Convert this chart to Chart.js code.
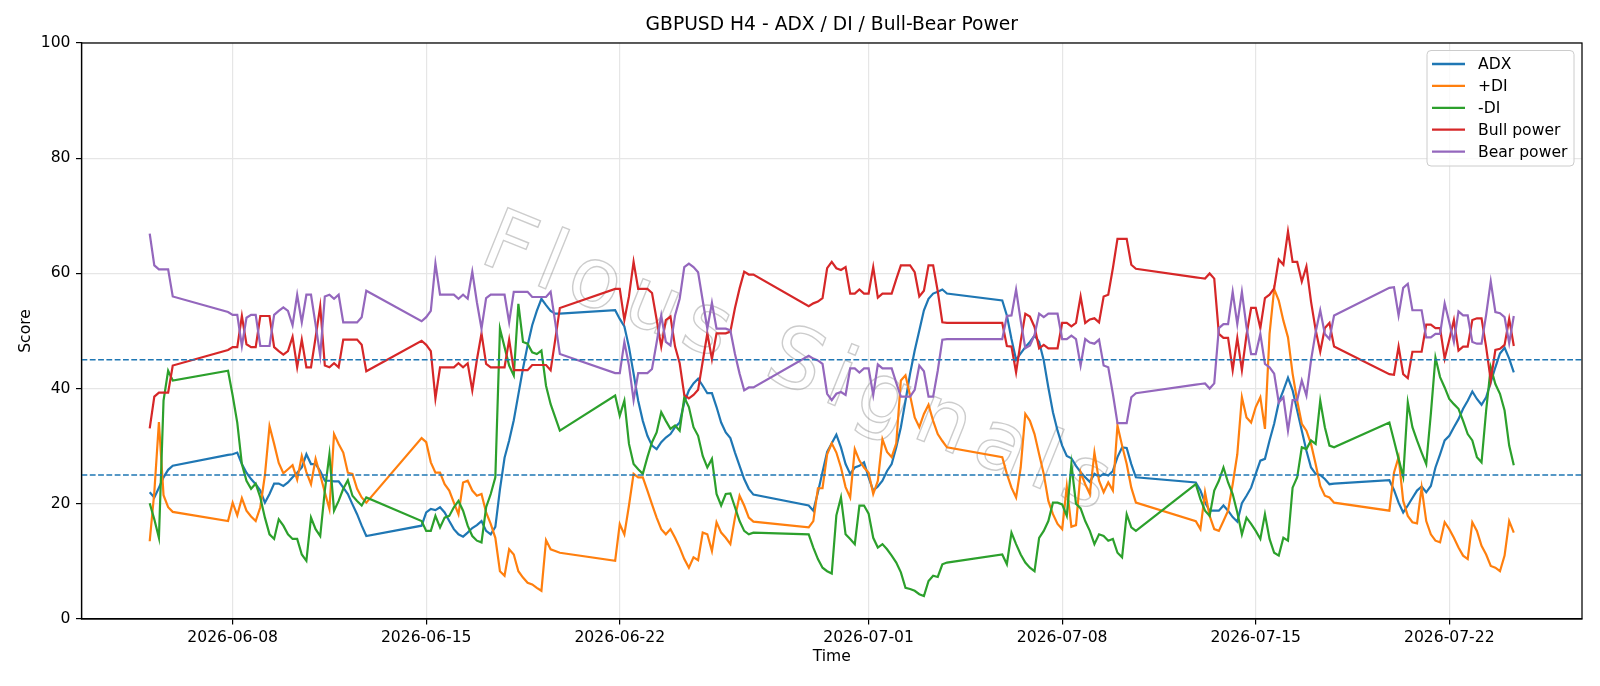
<!DOCTYPE html>
<html lang="en">
<head>
  <meta charset="UTF-8" />
  <title>GBPUSD H4 - ADX / DI / Bull-Bear Power</title>
  <script src="https://cdn.jsdelivr.net/npm/chart.js"></script>
  <style>
    body { margin: 0; background: #fff; }
    #wrap { width: 1600px; height: 686px; }
  </style>
</head>
<body>
  <div id="wrap"><canvas id="chart" width="1600" height="686"></canvas></div>

  <script>
    // H4 bars, one block per trading stretch: [first bar (UTC), number of bars]
    const sessions = [
      ['2026-06-05T00:00:00Z', 6],
      ['2026-06-07T20:00:00Z', 31],
      ['2026-06-14T20:00:00Z', 31],
      ['2026-06-21T20:00:00Z', 31],
      ['2026-06-28T20:00:00Z', 31],
      ['2026-07-05T20:00:00Z', 30],
      ['2026-07-12T20:00:00Z', 31],
      ['2026-07-19T20:00:00Z', 28]
    ];

    const tickDates = ['2026-06-08', '2026-06-15', '2026-06-22', '2026-07-01', '2026-07-08', '2026-07-15', '2026-07-22'];
    const yTicks = [0, 20, 40, 60, 80, 100];
    const levels = [45, 25];

    const adx = [
      22.0, 21.1, 22.8, 24.6, 25.9, 26.6,
      28.5, 28.6, 28.9, 26.9, 25.4, 24.3, 23.4, 22.3, 20.2, 21.7, 23.5, 23.5, 23.1, 23.7, 24.6, 25.4, 26.3, 28.6, 26.9, 26.9, 25.7, 24.0, 24.0, 23.9, 23.9, 22.8, 21.7, 19.9, 18.2, 16.2, 14.4,
      16.2, 18.5, 19.1, 18.9, 19.4, 18.5, 17.0, 15.6, 14.7, 14.3, 15.0, 15.8, 16.3, 17.0, 15.3, 14.7, 16.0, 22.5, 28.0, 31.0, 34.5, 39.0, 43.5, 47.5, 51.0, 53.5, 55.6, 54.5, 53.5, 53.0, 53.0,
      53.6, 52.1, 50.8, 47.2, 42.6, 37.9, 34.4, 31.8, 30.1, 29.5, 30.7, 31.5, 32.1, 33.3, 34.1, 37.6, 39.7, 40.9, 41.7, 40.5, 39.2, 39.2, 36.8, 34.1, 32.4, 31.4, 28.9, 26.6, 24.3, 22.6, 21.6,
      19.7, 18.8, 22.0, 25.5, 29.0, 30.5, 32.0, 29.8, 26.9, 25.2, 26.3, 26.6, 27.2, 24.6, 22.3, 23.0, 24.0, 25.7, 26.9, 29.8, 33.3, 37.9, 42.6, 46.6, 50.1, 53.6, 55.6, 56.5, 56.8, 57.2, 56.5,
      55.3, 52.7, 48.6, 45.0, 46.1, 47.2, 48.1, 49.2, 48.1, 44.9, 40.2, 35.9, 32.7, 30.1, 28.3, 27.9, 26.6, 25.5, 24.6, 23.8, 25.2, 24.7, 25.2, 24.9, 25.7, 28.1, 29.8, 29.7, 26.9, 24.6,
      23.7, 22.3, 20.2, 18.8, 18.8, 18.8, 19.7, 18.8, 17.7, 16.9, 20.1, 21.4, 22.8, 25.2, 27.5, 27.8, 31.0, 33.9, 37.6, 39.7, 41.9, 39.7, 36.2, 32.7, 29.2, 26.3, 25.2, 25.0, 24.3, 23.4, 23.5,
      24.1, 22.4, 20.2, 18.5, 19.7, 21.0, 22.3, 23.0, 22.0, 23.1, 26.3, 28.6, 31.0, 31.8, 33.3, 34.7, 36.5, 37.9, 39.5, 38.2, 37.2, 38.5, 41.1, 43.7, 46.1, 47.1, 45.2, 42.8
    ];

    const plusDi = [
      13.5, 22.0, 34.2, 21.5, 19.4, 18.6,
      17.0, 20.2, 18.0, 21.0, 18.8, 17.8, 17.0, 19.4, 25.0, 33.5, 30.4, 27.1, 25.3, 26.0, 26.7, 24.2, 28.3, 25.5, 23.4, 27.8, 25.0, 22.0, 19.1, 32.1, 30.4, 28.9, 25.4, 25.2, 22.6, 21.1, 20.2,
      31.4, 30.7, 27.2, 25.4, 25.4, 23.4, 22.3, 20.2, 18.2, 23.7, 24.0, 22.3, 21.4, 21.7, 18.5, 16.5, 14.1, 8.3, 7.5, 12.1, 11.2, 8.3, 7.2, 6.3, 6.0, 5.4, 4.9, 13.7, 12.1, 11.8, 11.5,
      10.1, 16.5, 14.7, 19.7, 25.2, 24.6, 24.6, 22.3, 19.9, 17.6, 15.6, 14.7, 15.6, 14.1, 12.4, 10.4, 8.9, 10.7, 10.2, 15.0, 14.7, 11.8, 16.8, 15.0, 14.1, 13.0, 17.6, 21.4, 19.7, 17.6, 16.9,
      15.9, 17.0, 22.7, 22.7, 28.6, 30.5, 28.9, 26.3, 22.9, 21.1, 29.5, 27.5, 26.3, 25.4, 21.7, 24.0, 31.2, 29.0, 28.1, 30.5, 41.4, 42.3, 38.8, 35.0, 33.3, 35.6, 37.2, 34.4, 32.1, 30.9, 29.8,
      28.1, 25.2, 22.8, 21.1, 26.3, 35.6, 34.4, 32.1, 28.6, 25.2, 20.5, 18.2, 16.5, 15.6, 23.0, 16.0, 16.3, 25.5, 23.4, 21.7, 28.9, 24.0, 22.0, 23.7, 22.3, 33.6, 30.1, 26.9, 22.8, 20.2,
      17.0, 15.6, 22.0, 17.9, 15.6, 15.3, 17.0, 18.8, 23.4, 28.6, 38.5, 35.0, 34.1, 36.8, 38.5, 33.0, 49.5, 57.3, 55.3, 51.8, 48.9, 42.6, 37.9, 33.9, 32.7, 30.4, 26.9, 23.1, 21.4, 21.1, 20.2,
      18.8, 25.4, 28.1, 20.5, 17.9, 16.8, 16.6, 22.8, 17.0, 14.7, 13.6, 13.3, 16.8, 15.6, 14.1, 12.4, 11.0, 10.4, 16.8, 15.3, 12.7, 11.2, 9.2, 8.9, 8.3, 11.0, 17.0, 15.0
    ];

    const minusDi = [
      20.1, 17.3, 14.1, 37.9, 43.1, 41.4,
      43.1, 38.8, 34.1, 26.9, 24.0, 22.6, 23.5, 21.1, 17.6, 14.7, 13.9, 17.3, 16.2, 14.7, 13.9, 13.9, 11.2, 10.1, 17.6, 15.6, 14.4, 22.3, 28.6, 18.8, 20.5, 22.6, 24.1, 21.4, 20.5, 19.7, 21.1,
      17.0, 15.3, 15.3, 17.9, 15.9, 17.6, 17.9, 19.4, 20.5, 18.8, 16.2, 14.4, 13.6, 13.3, 19.4, 21.7, 24.6, 50.4, 47.2, 44.0, 42.3, 54.7, 48.1, 47.8, 46.3, 46.0, 46.6, 40.5, 37.3, 35.0, 32.7,
      38.8, 35.3, 37.9, 30.4, 26.9, 26.0, 25.2, 28.1, 30.7, 32.4, 35.9, 34.4, 33.0, 33.6, 32.7, 38.5, 36.8, 33.3, 31.8, 28.3, 26.3, 27.8, 21.7, 19.7, 21.7, 21.8, 19.4, 17.0, 15.3, 14.7, 15.0,
      14.7, 12.4, 10.4, 8.9, 8.3, 7.9, 18.0, 21.1, 14.7, 13.9, 13.0, 19.7, 19.7, 18.3, 14.1, 12.4, 13.0, 12.1, 11.0, 9.8, 8.1, 5.4, 5.2, 4.9, 4.3, 4.0, 6.6, 7.5, 7.3, 9.5, 9.8,
      11.2, 9.5, 15.0, 13.0, 11.2, 9.8, 8.9, 8.3, 14.1, 15.3, 17.0, 20.2, 20.2, 19.9, 17.9, 26.9, 20.0, 19.2, 17.0, 15.3, 13.0, 14.7, 14.4, 13.6, 13.9, 11.5, 10.7, 18.2, 15.9, 15.3,
      23.4, 20.8, 18.8, 17.9, 22.3, 24.0, 26.3, 23.7, 21.7, 18.5, 14.7, 17.6, 16.5, 15.3, 13.9, 18.2, 13.9, 11.5, 11.0, 14.1, 13.6, 22.8, 24.6, 29.8, 29.5, 31.0, 30.4, 37.9, 33.3, 30.1, 29.8,
      34.1, 31.0, 27.8, 24.7, 37.6, 33.3, 31.0, 28.9, 26.9, 35.6, 45.4, 42.0, 40.2, 38.2, 37.3, 36.5, 34.4, 32.1, 31.0, 28.1, 27.2, 36.2, 43.7, 40.8, 39.1, 36.2, 30.1, 26.7
    ];

    const bullPower = [
      33.1, 38.6, 39.3, 39.3, 39.3, 44.0,
      46.7, 47.2, 47.2, 52.6, 47.7, 47.2, 47.2, 52.6, 52.6, 52.6, 47.2, 46.5, 45.9, 46.5, 49.0, 43.7, 48.5, 43.7, 43.7, 48.9, 54.3, 44.0, 43.7, 44.4, 43.7, 48.5, 48.5, 48.5, 48.5, 47.6, 43.0,
      48.3, 47.6, 46.5, 38.3, 43.7, 43.7, 43.7, 43.7, 44.4, 43.7, 44.4, 39.7, 45.0, 49.6, 44.3, 43.7, 43.7, 43.7, 43.7, 48.5, 43.2, 43.2, 43.2, 43.2, 44.1, 44.1, 44.1, 44.1, 43.2, 48.5, 54.0,
      57.3, 57.3, 51.9, 56.0, 62.0, 57.3, 57.3, 57.3, 56.6, 52.0, 47.3, 51.9, 52.5, 47.3, 44.4, 38.9, 38.3, 38.9, 39.8, 44.7, 49.6, 45.1, 49.6, 49.6, 49.6, 49.9, 54.0, 57.4, 60.3, 59.8, 59.8,
      54.3, 54.8, 55.1, 55.7, 60.9, 62.0, 60.9, 60.6, 61.1, 56.5, 56.5, 57.2, 56.5, 56.5, 61.1, 55.8, 56.5, 56.5, 56.5, 59.0, 61.4, 61.4, 61.4, 60.2, 56.0, 57.0, 61.4, 61.4, 56.9, 51.5, 51.4,
      51.4, 47.4, 47.3, 42.8, 48.2, 53.0, 52.5, 50.7, 47.0, 47.6, 47.0, 47.0, 47.0, 51.4, 51.4, 50.8, 51.4, 56.0, 51.4, 52.0, 52.2, 51.5, 56.0, 56.3, 60.9, 66.0, 66.0, 66.0, 61.5, 60.8,
      59.3, 59.2, 59.1, 60.0, 59.1, 49.5, 48.8, 48.8, 43.2, 48.8, 43.2, 49.3, 54.0, 54.0, 50.5, 55.7, 56.3, 57.4, 62.4, 61.5, 67.3, 62.0, 62.0, 58.6, 61.2, 55.1, 50.2, 46.4, 50.5, 51.4, 47.3,
      42.5, 42.4, 47.3, 42.5, 41.8, 46.4, 46.4, 46.4, 51.1, 51.1, 50.5, 50.5, 45.2, 48.5, 51.9, 46.6, 47.3, 47.3, 51.9, 52.2, 52.2, 47.2, 41.4, 46.7, 46.9, 47.6, 52.1, 47.4
    ];

    const bearPower = [
      66.9, 61.4, 60.7, 60.7, 60.7, 56.0,
      53.3, 52.8, 52.8, 47.4, 52.3, 52.8, 52.8, 47.4, 47.4, 47.4, 52.8, 53.5, 54.1, 53.5, 51.0, 56.3, 51.5, 56.3, 56.3, 51.1, 45.7, 56.0, 56.3, 55.6, 56.3, 51.5, 51.5, 51.5, 51.5, 52.4, 57.0,
      51.7, 52.4, 53.5, 61.7, 56.3, 56.3, 56.3, 56.3, 55.6, 56.3, 55.6, 60.3, 55.0, 50.4, 55.7, 56.3, 56.3, 56.3, 56.3, 51.5, 56.8, 56.8, 56.8, 56.8, 55.9, 55.9, 55.9, 55.9, 56.8, 51.5, 46.0,
      42.7, 42.7, 48.1, 44.0, 38.0, 42.7, 42.7, 42.7, 43.4, 48.0, 52.7, 48.1, 47.5, 52.7, 55.6, 61.1, 61.7, 61.1, 60.2, 55.3, 50.4, 54.9, 50.4, 50.4, 50.4, 50.1, 46.0, 42.6, 39.7, 40.2, 40.2,
      45.7, 45.2, 44.9, 44.3, 39.1, 38.0, 39.1, 39.4, 38.9, 43.5, 43.5, 42.8, 43.5, 43.5, 38.9, 44.2, 43.5, 43.5, 43.5, 41.0, 38.6, 38.6, 38.6, 39.8, 44.0, 43.0, 38.6, 38.6, 43.1, 48.5, 48.6,
      48.6, 52.6, 52.7, 57.2, 51.8, 47.0, 47.5, 49.3, 53.0, 52.4, 53.0, 53.0, 53.0, 48.6, 48.6, 49.2, 48.6, 44.0, 48.6, 48.0, 47.8, 48.5, 44.0, 43.7, 39.1, 34.0, 34.0, 34.0, 38.5, 39.2,
      40.7, 40.8, 40.9, 40.0, 40.9, 50.5, 51.2, 51.2, 56.8, 51.2, 56.8, 50.7, 46.0, 46.0, 49.5, 44.3, 43.7, 42.6, 37.6, 38.5, 32.7, 38.0, 38.0, 41.4, 38.8, 44.9, 49.8, 53.6, 49.5, 48.6, 52.7,
      57.5, 57.6, 52.7, 57.5, 58.2, 53.6, 53.6, 53.6, 48.9, 48.9, 49.5, 49.5, 54.8, 51.5, 48.1, 53.4, 52.7, 52.7, 48.1, 47.8, 47.8, 52.8, 58.6, 53.3, 53.1, 52.4, 47.9, 52.6
    ];

    const H4 = 4 * 3600 * 1000;
    const times = [];
    sessions.forEach(([start, n]) => {
      const t0 = Date.parse(start);
      for (let i = 0; i < n; i++) times.push(t0 + i * H4);
    });

    // matplotlib style: 5% margin on each side of the data
    const span = times[times.length - 1] - times[0];
    const xMin = times[0] - 0.05 * span;
    const xMax = times[times.length - 1] + 0.05 * span;

    const FONT = "'DejaVu Sans', sans-serif";

    const series = [
      { label: 'ADX', values: adx, color: '#1f77b4' },
      { label: '+DI', values: plusDi, color: '#ff7f0e' },
      { label: '-DI', values: minusDi, color: '#2ca02c' },
      { label: 'Bull power', values: bullPower, color: '#d62728' },
      { label: 'Bear power', values: bearPower, color: '#9467bd' }
    ];

    const decorations = {
      id: 'decorations',
      beforeDraw(chart) {
        const ctx = chart.ctx;
        ctx.save();
        ctx.fillStyle = '#fff';
        ctx.fillRect(0, 0, chart.width, chart.height);
        ctx.restore();
      },
      beforeDatasetsDraw(chart) {
        // faint watermark behind the lines
        const ctx = chart.ctx;
        ctx.save();
        ctx.translate(800, 368);
        ctx.rotate(22 * Math.PI / 180);
        ctx.font = "84px " + FONT;
        ctx.letterSpacing = '10px';
        ctx.textAlign = 'center';
        ctx.textBaseline = 'middle';
        ctx.strokeStyle = 'rgba(120,120,120,0.38)';
        ctx.lineWidth = 1.4;
        ctx.strokeText('Flous Signals', 0, 0);
        ctx.restore();
      },
      afterDatasetsDraw(chart) {
        const ctx = chart.ctx;
        const a = chart.chartArea;
        const y = chart.scales.y;
        ctx.save();
        ctx.strokeStyle = '#1f77b4';
        ctx.lineWidth = 1.5;
        ctx.setLineDash([5.8, 2.5]);
        levels.forEach(v => {
          const py = y.getPixelForValue(v);
          ctx.beginPath();
          ctx.moveTo(a.left, py);
          ctx.lineTo(a.right, py);
          ctx.stroke();
        });
        ctx.restore();
      },
      afterDraw(chart) {
        const ctx = chart.ctx;
        const a = chart.chartArea;
        ctx.save();
        // frame
        ctx.strokeStyle = '#000';
        ctx.lineWidth = 1.25;
        ctx.strokeRect(a.left, a.top, a.right - a.left, a.bottom - a.top);

        // title + axis labels
        ctx.fillStyle = '#000';
        ctx.textAlign = 'center';
        ctx.textBaseline = 'middle';
        ctx.font = "18.7px " + FONT;
        ctx.fillText('GBPUSD H4 - ADX / DI / Bull-Bear Power', (a.left + a.right) / 2, 25.5);
        ctx.font = "15.6px " + FONT;
        ctx.fillText('Time', (a.left + a.right) / 2, 657);
        ctx.save();
        ctx.translate(25.5, (a.top + a.bottom) / 2);
        ctx.rotate(-Math.PI / 2);
        ctx.fillText('Score', 0, 0);
        ctx.restore();

        // legend box, upper right
        const bx = 1427, by = 50.5, bw = 147, bh = 115.5, r = 4;
        ctx.beginPath();
        ctx.moveTo(bx + r, by);
        ctx.arcTo(bx + bw, by, bx + bw, by + bh, r);
        ctx.arcTo(bx + bw, by + bh, bx, by + bh, r);
        ctx.arcTo(bx, by + bh, bx, by, r);
        ctx.arcTo(bx, by, bx + bw, by, r);
        ctx.closePath();
        ctx.fillStyle = 'rgba(255,255,255,0.8)';
        ctx.fill();
        ctx.strokeStyle = '#cccccc';
        ctx.lineWidth = 1;
        ctx.stroke();

        ctx.textAlign = 'left';
        ctx.font = "15.6px " + FONT;
        series.forEach((s, i) => {
          const ly = 64 + i * 21.9;
          ctx.strokeStyle = s.color;
          ctx.lineWidth = 2.3;
          ctx.beginPath();
          ctx.moveTo(1432, ly);
          ctx.lineTo(1465, ly);
          ctx.stroke();
          ctx.fillStyle = '#000';
          ctx.fillText(s.label, 1478, ly + 1);
        });
        ctx.restore();
      }
    };

    new Chart(document.getElementById('chart'), {
      type: 'line',
      data: {
        datasets: series.map((s, i) => ({
          label: s.label,
          data: times.map((t, k) => ({ x: t, y: s.values[k] })),
          borderColor: s.color,
          backgroundColor: s.color,
          borderWidth: 2.2,
          pointRadius: 0,
          tension: 0,
          fill: false,
          order: series.length - i
        }))
      },
      options: {
        responsive: false,
        animation: false,
        devicePixelRatio: 1,
        layout: { padding: { top: 43, right: 18, left: 0, bottom: 0 } },
        plugins: {
          legend: { display: false },
          tooltip: { enabled: false },
          title: { display: false }
        },
        scales: {
          x: {
            type: 'linear',
            min: xMin,
            max: xMax,
            afterFit: s => { s.height = 67; },
            afterBuildTicks: s => {
              s.ticks = tickDates.map(d => ({ value: Date.parse(d + 'T00:00:00Z') }));
            },
            ticks: {
              autoSkip: false,
              maxRotation: 0,
              padding: 4,
              color: '#000',
              font: { family: FONT, size: 15.6 },
              callback: v => new Date(v).toISOString().slice(0, 10)
            },
            grid: {
              color: '#e6e6e6',
              lineWidth: 1.2,
              tickColor: '#000',
              tickLength: 5.5,
              tickWidth: 1.2
            },
            border: { display: true, color: '#000', width: 1.25 }
          },
          y: {
            min: 0,
            max: 100,
            afterFit: s => { s.width = 81.5; },
            afterBuildTicks: s => {
              s.ticks = yTicks.map(v => ({ value: v }));
            },
            ticks: {
              padding: 5.5,
              color: '#000',
              font: { family: FONT, size: 15.6 }
            },
            grid: {
              color: '#e6e6e6',
              lineWidth: 1.2,
              tickColor: '#000',
              tickLength: 5.5,
              tickWidth: 1.2
            },
            border: { display: true, color: '#000', width: 1.25 }
          }
        }
      },
      plugins: [decorations]
    });
  </script>
</body>
</html>
